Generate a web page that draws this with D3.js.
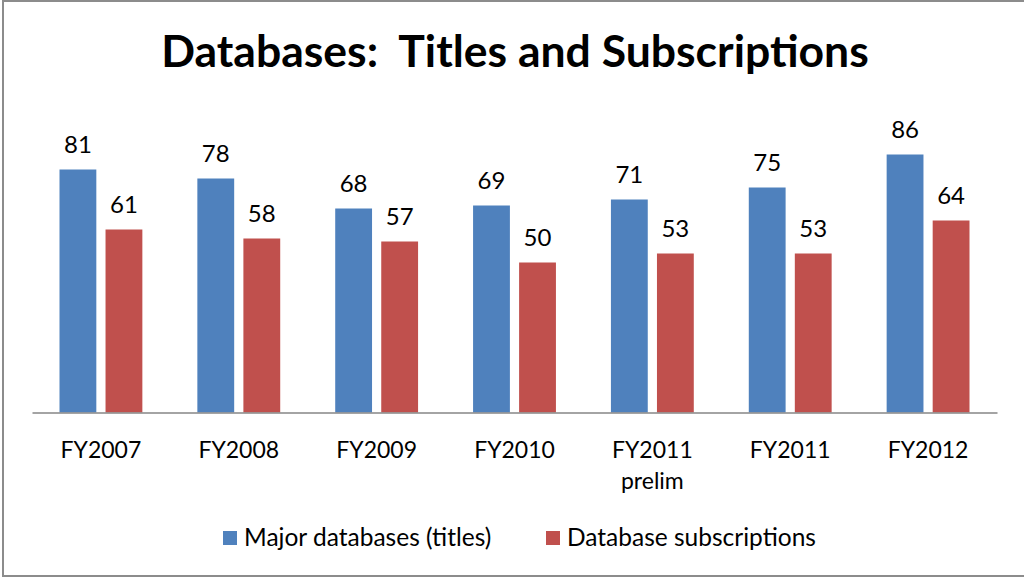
<!DOCTYPE html>
<html>
<head>
<meta charset="utf-8">
<script src="https://cdn.jsdelivr.net/npm/d3@7"></script>
<style>
    body { margin: 0; background: #fff; }
    svg { display: block; }
    svg text { font-family: Lato, "Open Sans", sans-serif; }
</style>
</head>
<body>
<div id="main"></div>
<script>
var categories = ["FY2007", "FY2008", "FY2009", "FY2010", "FY2011\nprelim", "FY2011", "FY2012"];
var series_names = ["Major databases (titles)", "Database subscriptions"];
var titles = [81, 78, 68, 69, 71, 75, 86];
var subscriptions = [61, 58, 57, 50, 53, 53, 64];
var colors = ["#4F81BD", "#C0504D"];

var width = 1024;
var height = 578;
var plot = {left: 32, right: 997, top: 112.5, bottom: 412.5};

var svg = d3.select("#main")
    .append("svg")
    .attr("width", width)
    .attr("height", height);

// outer frame (right edge is cut off in the original)
svg.append("rect")
    .attr("x", 3)
    .attr("y", 1)
    .attr("width", width + 10)
    .attr("height", 575)
    .style("fill", "#fff")
    .style("stroke", "#8c8c8c")
    .style("stroke-width", 2);

svg.append("text")
    .attr("x", 515)
    .attr("y", 67)
    .attr("text-anchor", "middle")
    .style("font-weight", "bold")
    .style("font-size", "44.5px")
    .style("fill", "#000")
    .text("Databases:\u00a0 Titles and Subscriptions");

var x = d3.scaleBand()
    .domain(d3.range(categories.length))
    .range([plot.left, plot.right]);

var inner = d3.scaleBand()
    .domain([0, 1])
    .range([27.5, x.bandwidth() - 27.5])
    .paddingInner(0.2);

var y = d3.scaleLinear()
    .domain([0, 100])
    .range([plot.bottom, plot.top]);

var rows = categories.map(function(c, i) {
    return [{i: i, s: 0, v: titles[i]}, {i: i, s: 1, v: subscriptions[i]}];
});

var groups = svg.selectAll(".group")
    .data(rows)
    .enter()
    .append("g")
    .attr("class", "group")
    .attr("transform", function(d, i) { return "translate(" + x(i) + ",0)"; });

groups.selectAll("rect")
    .data(function(d) { return d; })
    .enter()
    .append("rect")
    .attr("x", function(d) { return inner(d.s); })
    .attr("y", function(d) { return y(d.v); })
    .attr("width", inner.bandwidth())
    .attr("height", function(d) { return y(0) - y(d.v); })
    .style("fill", function(d) { return colors[d.s]; });

groups.selectAll(".label")
    .data(function(d) { return d; })
    .enter()
    .append("text")
    .attr("class", "label")
    .attr("x", function(d) { return inner(d.s) + inner.bandwidth() / 2; })
    .attr("y", function(d) { return y(d.v) - 17; })
    .attr("text-anchor", "middle")
    .style("font-size", "24px")
    .style("fill", "#000")
    .text(function(d) { return d.v; });

// category axis
var axis = svg.append("g")
    .attr("transform", "translate(0," + plot.bottom + ")")
    .call(d3.axisBottom(x).tickSize(0).tickFormat(""));
axis.attr("font-family", null);
axis.select(".domain")
    .attr("stroke", "#868686")
    .attr("stroke-width", 1.5);

axis.selectAll(".tick")
    .append("text")
    .attr("text-anchor", "middle")
    .style("font-size", "23px")
    .style("fill", "#000")
    .selectAll("tspan")
    .data(function(i) { return categories[i].split("\n"); })
    .enter()
    .append("tspan")
    .attr("x", 0)
    .attr("y", function(d, j) { return 45 + j * 31; })
    .text(function(d) { return d; });

// legend
var legend_x = [223, 546];
var legend = svg.selectAll(".legend")
    .data(series_names)
    .enter()
    .append("g")
    .attr("class", "legend")
    .attr("transform", function(d, i) { return "translate(" + legend_x[i] + ",531)"; });

legend.append("rect")
    .attr("width", 14)
    .attr("height", 14)
    .style("fill", function(d, i) { return colors[i]; });

legend.append("text")
    .attr("x", 21)
    .attr("y", 15)
    .style("font-size", "24.5px")
    .style("fill", "#000")
    .text(function(d) { return d; });
</script>
</body>
</html>
